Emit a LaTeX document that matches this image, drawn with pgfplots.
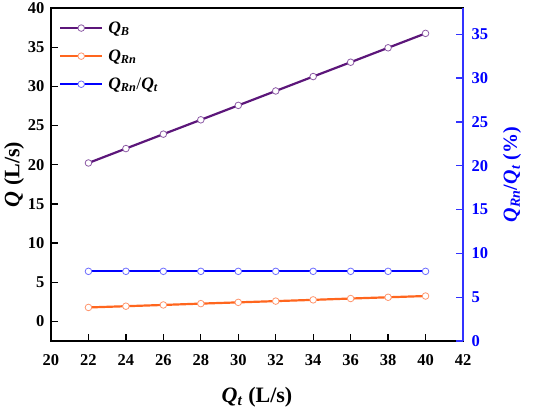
\documentclass[border=0pt]{standalone}
\usepackage{fontspec}
\setmainfont{Liberation Serif}
\usepackage{pgfplots}
\pgfplotsset{compat=1.18}
\definecolor{cpurple}{RGB}{92,22,122}
\definecolor{cpurplem}{RGB}{140,90,165}
\definecolor{corange}{RGB}{255,102,30}
\definecolor{corangem}{RGB}{255,150,110}
\definecolor{cblue}{RGB}{0,0,255}
\definecolor{cbluem}{RGB}{110,110,255}
\definecolor{caxisblue}{RGB}{50,50,255}
\newcommand{\Qs}[1]{\textbf{\textit{Q}}\textsubscript{\textbf{\textit{#1}}}}
\begin{document}
\begin{tikzpicture}
\begin{axis}[
  name=main,
  scale only axis, width=412pt, height=333pt,
  xmin=20, xmax=42, ymin=-2.5, ymax=40,
  xtick={20,22,...,42}, ytick={0,5,...,40},
  tick align=inside, xtick pos=bottom, ytick pos=left,
  major tick length=7pt,
  axis line style={line width=1.3pt},
  major tick style={line width=1.3pt, black},
  /pgf/number format/assume math mode=true,
  ticklabel style={font=\bfseries\fontsize{16.5}{16.5}\selectfont},
  xticklabel style={yshift=-10pt},
  yticklabel style={xshift=-3pt},
  xlabel={\Qs{t} \textbf{(L/s)}},
  ylabel={\textbf{\textit{Q}} \textbf{(L/s)}},
  label style={font=\bfseries\fontsize{22}{22}\selectfont},
  xlabel style={yshift=-15pt},
  ylabel style={yshift=-3pt},
  legend style={draw=none, fill=none, at={(0.012,0.972)}, anchor=north west,
    font=\fontsize{17.5}{17.5}\selectfont, row sep=11pt, column sep=3pt},
  legend cell align=left,
  legend image code/.code={\draw[mark repeat=2,mark phase=2,#1] plot coordinates {(0pt,0pt) (21pt,0pt) (42pt,0pt)};},
]
\addplot[cpurple, line width=2.2pt, mark=*, mark size=3.3pt,
  mark options={fill=white, draw=cpurplem, line width=0.8pt}] coordinates {
  (22,20.22) (24,22.06) (26,23.90) (28,25.73) (30,27.57)
  (32,29.41) (34,31.25) (36,33.08) (38,34.92) (40,36.76)};
\addlegendentry{\Qs{B}}
\addplot[corange, line width=2.2pt, mark=*, mark size=3.3pt,
  mark options={fill=white, draw=corangem, line width=0.8pt}] coordinates {
  (22,1.78) (24,1.94) (26,2.10) (28,2.27) (30,2.43)
  (32,2.59) (34,2.75) (36,2.92) (38,3.08) (40,3.24)};
\addlegendentry{\Qs{Rn}}
\addlegendimage{cblue, line width=2.2pt, mark=*, mark size=3.3pt,
  mark options={fill=white, draw=cbluem, line width=0.8pt}}
\addlegendentry{\Qs{Rn}/\Qs{t}}
\end{axis}
\begin{axis}[
  scale only axis, width=412pt, height=333pt,
  xmin=20, xmax=42, ymin=0, ymax=38,
  axis x line=none, axis y line*=right,
  ytick={0,5,...,35},
  tick align=inside, major tick length=7pt,
  y axis line style={caxisblue, line width=1.3pt, -},
  ytick style={caxisblue, line width=1.3pt},
  /pgf/number format/assume math mode=true,
  yticklabel style={cblue, xshift=5pt, font=\bfseries\fontsize{16.5}{16.5}\selectfont},
  ylabel={\Qs{Rn}/\Qs{t} \textbf{(\%)}},
  ylabel style={cblue, yshift=-8pt, font=\bfseries\fontsize{20}{20}\selectfont},
]
\addplot[cblue, line width=2.2pt, mark=*, mark size=3.3pt,
  mark options={fill=white, draw=cbluem, line width=0.8pt}] coordinates {
  (22,7.95) (24,7.95) (26,7.95) (28,7.95) (30,7.95)
  (32,7.95) (34,7.95) (36,7.95) (38,7.95) (40,7.95)};
\end{axis}
\pgfresetboundingbox
\path (main.south west) ++(-51pt,-73pt) rectangle ([shift={(87pt,8pt)}]main.north east);
\end{tikzpicture}
\end{document}
